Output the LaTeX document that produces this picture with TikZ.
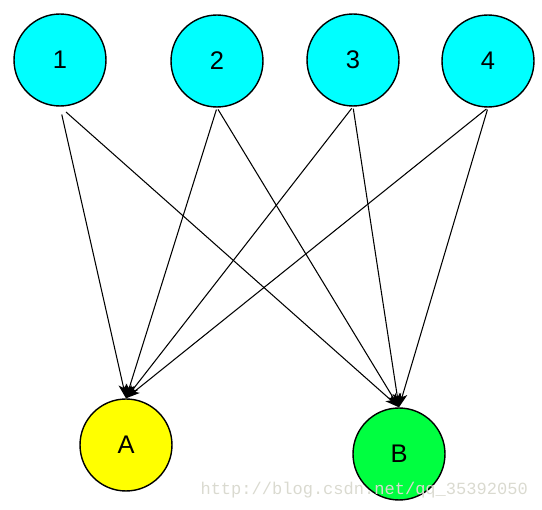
\documentclass[tikz,border=0pt]{standalone}
\usepackage{fontspec}
\setmainfont{Liberation Sans}
\newfontfamily\wmfont{Liberation Mono}
\usetikzlibrary{arrows.meta}
\definecolor{topcol}{RGB}{0,255,255}
\definecolor{acol}{RGB}{255,255,0}
\definecolor{bcol}{RGB}{0,255,64}
\definecolor{wmcol}{RGB}{218,218,208}
\tikzset{>={Stealth[length=8pt,width=5pt,inset=2pt]},every node/.style={font=\fontsize{14.5}{16}\selectfont},
ball/.style={circle,draw,thick,minimum size=1.84cm,inner sep=0pt},link/.style={->,semithick}}
\begin{document}
\begin{tikzpicture}[x=0.02cm,y=-0.02cm]
\useasboundingbox (0,0) rectangle (542,510);
% Quatre sources en haut, deux cibles en bas, chaque source reliée aux deux cibles.
\foreach \n/\x/\y in {1/60/60,2/217/61,3/353/60,4/488/61}
\node[ball,fill=topcol] (c\n) at (\x,\y) {\n};
\node[ball,fill=acol] (A) at (126,445) {A};
\node[ball,fill=bcol] (B) at (399,454) {B};
\foreach \n/\g in {1/0.16,2/0.04,3/0.04,4/0.04}{
\draw[link,shorten <=\g cm] (c\n.south) -- (A.north);
\draw[link,shorten <=\g cm] (c\n.south) -- (B.north);}
\node[font=\wmfont\fontsize{9.7}{10}\selectfont,text=wmcol,anchor=east] (wm) at (534,490) {http://blog.csdn.net/qq\_35392050};
\end{tikzpicture}
\end{document}
